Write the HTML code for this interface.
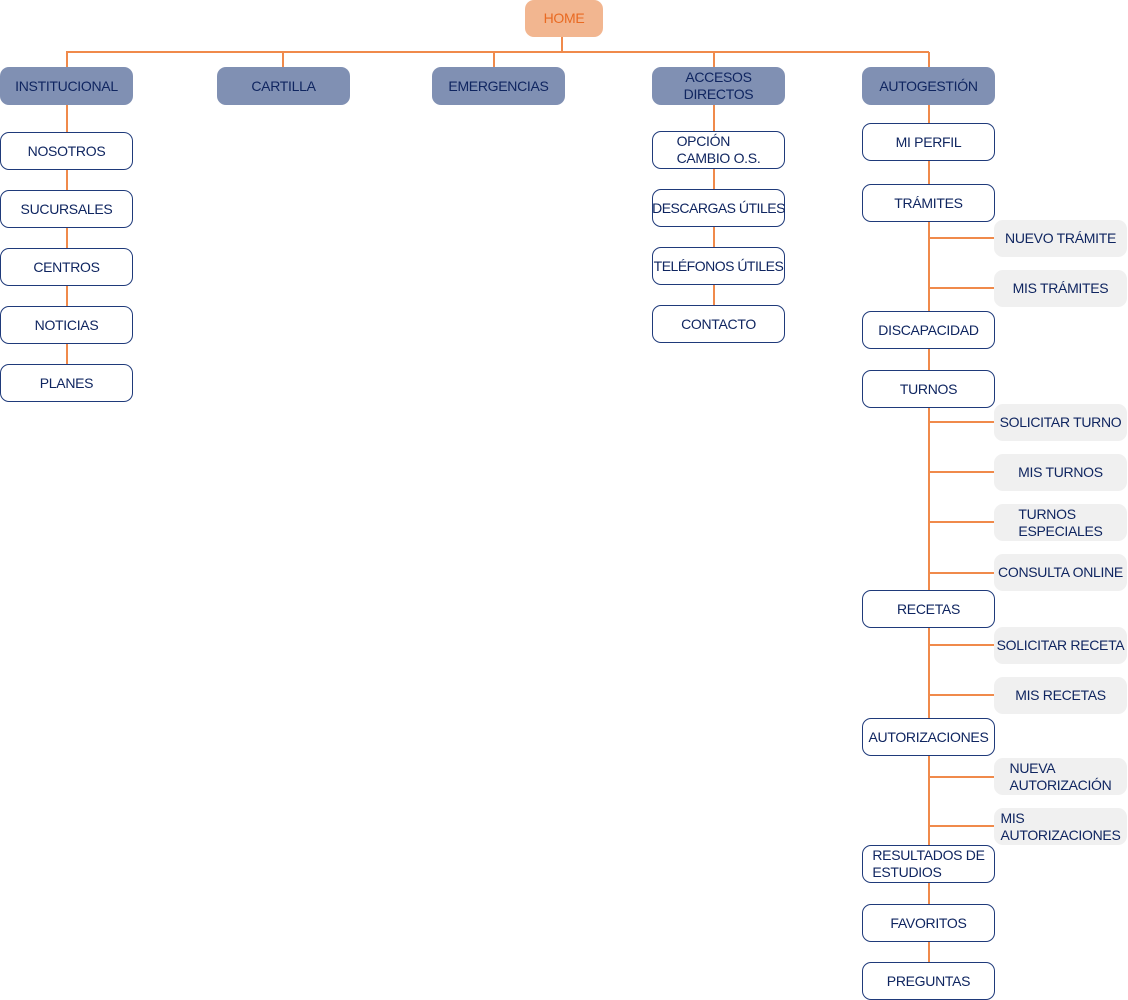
<!DOCTYPE html>
<html><head><meta charset="utf-8"><style>
body{margin:0;width:1128px;height:1000px;position:relative;background:#fff;font-family:"Liberation Sans",sans-serif;overflow:hidden}
.b{position:absolute;box-sizing:border-box;display:flex;align-items:center;justify-content:center;font-size:14px;color:#0f2560;border-radius:9px;line-height:17px;letter-spacing:-0.3px;white-space:nowrap}
.w{background:#fff;border:1.5px solid #1f3a7a;width:133px;height:38px;left:862px}
.h{background:#8090b3;width:133px;height:38px;top:67px}
.g{background:#f0f0f0;width:133px;height:37px;left:994px}
.b span{text-align:left;display:inline-block}
.l{position:absolute;background:#f08a4b}
</style></head><body>
<div class="b" style="left:525px;top:0;width:78px;height:37px;background:#f2b690;color:#e96a22">HOME</div>
<div class="l" style="left:561px;top:37px;width:1.5px;height:15px"></div>
<div class="l" style="left:66px;top:51px;width:863px;height:1.5px"></div>
<div class="l" style="left:66px;top:52px;width:1.5px;height:15px"></div>
<div class="l" style="left:282px;top:52px;width:1.5px;height:15px"></div>
<div class="l" style="left:493px;top:52px;width:1.5px;height:15px"></div>
<div class="l" style="left:713px;top:52px;width:1.5px;height:15px"></div>
<div class="l" style="left:928px;top:52px;width:1.5px;height:15px"></div>
<div class="l" style="left:66px;top:104px;width:1.5px;height:262px"></div>
<div class="l" style="left:713px;top:104px;width:1.5px;height:203px"></div>
<div class="l" style="left:928px;top:104px;width:1.5px;height:860px"></div>
<div class="l" style="left:928px;top:237px;width:66px;height:1.5px"></div>
<div class="l" style="left:928px;top:287px;width:66px;height:1.5px"></div>
<div class="l" style="left:928px;top:421px;width:66px;height:1.5px"></div>
<div class="l" style="left:928px;top:471px;width:66px;height:1.5px"></div>
<div class="l" style="left:928px;top:521px;width:66px;height:1.5px"></div>
<div class="l" style="left:928px;top:572px;width:66px;height:1.5px"></div>
<div class="l" style="left:928px;top:644px;width:66px;height:1.5px"></div>
<div class="l" style="left:928px;top:694px;width:66px;height:1.5px"></div>
<div class="l" style="left:928px;top:776px;width:66px;height:1.5px"></div>
<div class="l" style="left:928px;top:825px;width:66px;height:1.5px"></div>

<div class="b h" style="left:0">INSTITUCIONAL</div>
<div class="b h" style="left:217px">CARTILLA</div>
<div class="b h" style="left:432px">EMERGENCIAS</div>
<div class="b h" style="left:652px"><span style="text-align:center">ACCESOS<br>DIRECTOS</span></div>
<div class="b h" style="left:862px">AUTOGESTIÓN</div>

<div class="b w" style="left:0;top:132px">NOSOTROS</div>
<div class="b w" style="left:0;top:190px">SUCURSALES</div>
<div class="b w" style="left:0;top:248px">CENTROS</div>
<div class="b w" style="left:0;top:306px">NOTICIAS</div>
<div class="b w" style="left:0;top:364px">PLANES</div>

<div class="b w" style="left:652px;top:131px"><span>OPCIÓN<br>CAMBIO O.S.</span></div>
<div class="b w" style="left:652px;top:189px;letter-spacing:-0.5px">DESCARGAS ÚTILES</div>
<div class="b w" style="left:652px;top:247px;letter-spacing:-0.5px">TELÉFONOS ÚTILES</div>
<div class="b w" style="left:652px;top:305px">CONTACTO</div>

<div class="b w" style="top:123px">MI PERFIL</div>
<div class="b w" style="top:184px">TRÁMITES</div>
<div class="b w" style="top:311px">DISCAPACIDAD</div>
<div class="b w" style="top:370px">TURNOS</div>
<div class="b w" style="top:590px">RECETAS</div>
<div class="b w" style="top:718px">AUTORIZACIONES</div>
<div class="b w" style="top:845px"><span>RESULTADOS DE<br>ESTUDIOS</span></div>
<div class="b w" style="top:904px">FAVORITOS</div>
<div class="b w" style="top:962px">PREGUNTAS</div>

<div class="b g" style="top:220px">NUEVO TRÁMITE</div>
<div class="b g" style="top:270px">MIS TRÁMITES</div>
<div class="b g" style="top:404px">SOLICITAR TURNO</div>
<div class="b g" style="top:454px">MIS TURNOS</div>
<div class="b g" style="top:504px"><span>TURNOS<br>ESPECIALES</span></div>
<div class="b g" style="top:554px">CONSULTA ONLINE</div>
<div class="b g" style="top:627px">SOLICITAR RECETA</div>
<div class="b g" style="top:677px">MIS RECETAS</div>
<div class="b g" style="top:758px"><span>NUEVA<br>AUTORIZACIÓN</span></div>
<div class="b g" style="top:808px"><span>MIS<br>AUTORIZACIONES</span></div>
</body></html>
